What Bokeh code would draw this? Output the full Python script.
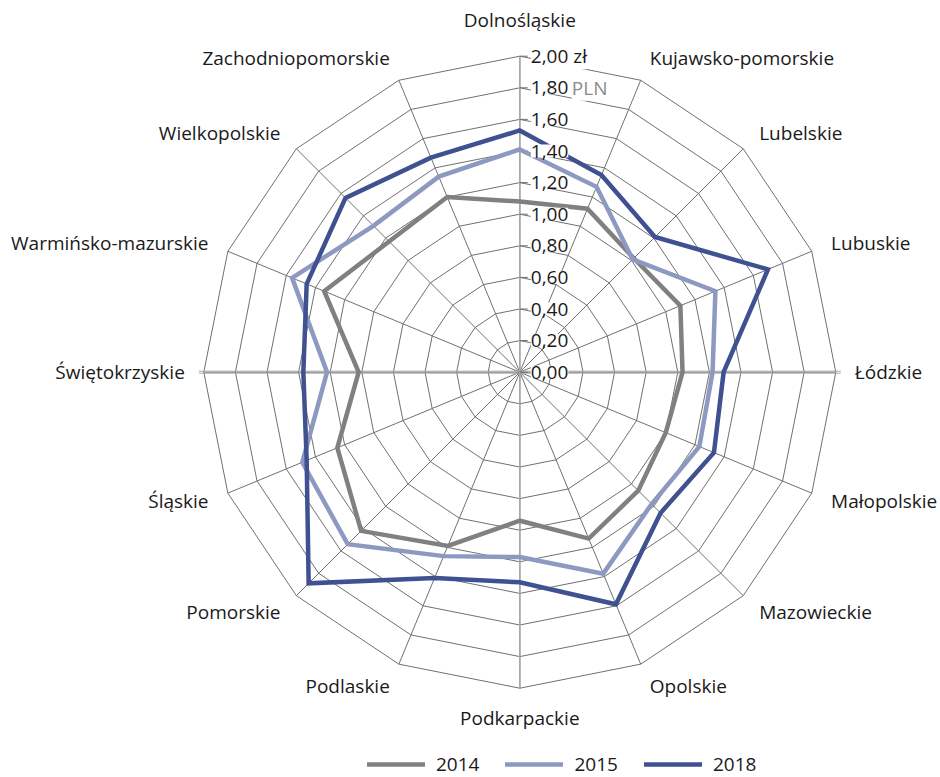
import math
from bokeh.plotting import figure
from bokeh.models import Range1d, Label, Legend, LegendItem
from bokeh.embed import file_html
from bokeh.resources import INLINE

# ---------------- data ----------------
categories = ["Dolnośląskie", "Kujawsko-pomorskie", "Lubelskie", "Lubuskie", "Łódzkie",
              "Małopolskie", "Mazowieckie", "Opolskie", "Podkarpackie", "Podlaskie",
              "Pomorskie", "Śląskie", "Świętokrzyskie", "Warmińsko-mazurskie",
              "Wielkopolskie", "Zachodniopomorskie"]
v2014 = [1.08, 1.12, 1.02, 1.10, 1.03, 1.00, 1.06, 1.14, 0.94, 1.19, 1.42, 1.25, 1.02, 1.34, 1.17, 1.20]
v2015 = [1.41, 1.27, 1.01, 1.34, 1.22, 1.23, 1.18, 1.38, 1.17, 1.26, 1.54, 1.49, 1.22, 1.56, 1.31, 1.34]
v2018 = [1.53, 1.35, 1.21, 1.70, 1.29, 1.33, 1.26, 1.59, 1.33, 1.41, 1.89, 1.46, 1.37, 1.46, 1.56, 1.47]
series_names = ["2014", "2015", "2018"]
tick_values = [0.0, 0.2, 0.4, 0.6, 0.8, 1.0, 1.2, 1.4, 1.6, 1.8, 2.0]
tick_labels = ["0,00", "0,20", "0,40", "0,60", "0,80", "1,00", "1,20", "1,40", "1,60", "1,80", "2,00 zł"]
unit_label = "PLN"

# ---------------- layout ----------------
W, H = 940, 777
CX, CY = 519.3, 371.7               # centre in frame pixels (from top-left)
S = 158.0                            # pixels per value unit
RMAX = 2.0
FONT = "Open Sans"
FS = "19px"
colors = ["#808080", "#8d99c0", "#3f5191"]
grid_color = "#707070"
axis_color = "#a8a8a8"

p = figure(width=W, height=H, output_backend="svg", toolbar_location=None,
           x_range=Range1d(-CX / S, (W - CX) / S),
           y_range=Range1d(-(H - CY) / S, CY / S),
           min_border=0, outline_line_color=None)
p.axis.visible = False
p.grid.visible = False
p.background_fill_color = "white"
p.border_fill_color = "white"

n = len(categories)
angles = [math.pi / 2 - i * 2 * math.pi / n for i in range(n)]

def px(v):
    return v / S

# rings
ring_xs, ring_ys = [], []
for lv in tick_values[1:]:
    ring_xs.append([lv * math.cos(a) for a in angles] + [lv * math.cos(angles[0])])
    ring_ys.append([lv * math.sin(a) for a in angles] + [lv * math.sin(angles[0])])
p.multi_line(ring_xs, ring_ys, line_color=grid_color, line_width=1)

# spokes
sp_xs = [[0, RMAX * math.cos(a)] for a in angles]
sp_ys = [[0, RMAX * math.sin(a)] for a in angles]
p.multi_line(sp_xs, sp_ys, line_color=grid_color, line_width=1)

# horizontal double line and vertical value axis
ext = px(5)
for off in (-1.0, 1.0):
    p.line([-RMAX - ext, RMAX + ext], [px(off), px(off)], line_color=axis_color, line_width=1)
p.line([0, 0], [0, RMAX], line_color=axis_color, line_width=1.6)
p.line([0, 0], [0, -RMAX], line_color=axis_color, line_width=1.6)
# tick marks
p.multi_line([[0, px(8)] for _ in tick_values], [[t, t] for t in tick_values],
             line_color=grid_color, line_width=1)

# series
renderers = []
for vals, col in zip([v2014, v2015, v2018], colors):
    xs = [v * math.cos(a) for v, a in zip(vals, angles)]
    ys = [v * math.sin(a) for v, a in zip(vals, angles)]
    xs.append(xs[0]); ys.append(ys[0])
    r = p.line(xs, ys, line_color=col, line_width=4.5, line_join="miter", line_cap="round")
    renderers.append(r)

# tick labels (white background)
for t, lab in zip(tick_values, tick_labels):
    p.add_layout(Label(x=px(11), y=t, text=lab, text_font=FONT, text_font_size=FS,
                       text_color="#1a1a1a", text_baseline="middle", text_align="left",
                       background_fill_color="white"))
p.add_layout(Label(x=px(52), y=tick_values[-2], text=unit_label, text_font=FONT,
                   text_font_size=FS, text_color="#8c8c8c", text_baseline="middle",
                   text_align="left", background_fill_color="white"))

# category labels
RL = 335
for cat, a in zip(categories, angles):
    c, s = math.cos(a), math.sin(a)
    if c > 0.2:
        align, r = "left", RL + 5 * abs(s)
    elif c < -0.2:
        align, r = "right", RL + 5 * abs(s)
    else:
        align, r = "center", (352 if s > 0 else 346)
    x = r * c if align != "center" else 0
    y = r * s
    p.add_layout(Label(x=px(x), y=px(y), text=cat, text_font=FONT, text_font_size=FS,
                       text_color="#1a1a1a", text_baseline="middle", text_align=align))

# legend
items = [LegendItem(label=nm, renderers=[r]) for nm, r in zip(series_names, renderers)]
legend = Legend(items=items, orientation="horizontal", location=(367, 0),
                glyph_width=58, glyph_height=20, label_standoff=11, spacing=26,
                padding=0, margin=0, border_line_color=None, background_fill_alpha=0,
                label_text_font=FONT, label_text_font_size=FS, label_text_color="#1a1a1a")
p.add_layout(legend, "center")

open("out.html", "w").write(file_html(p, INLINE))
